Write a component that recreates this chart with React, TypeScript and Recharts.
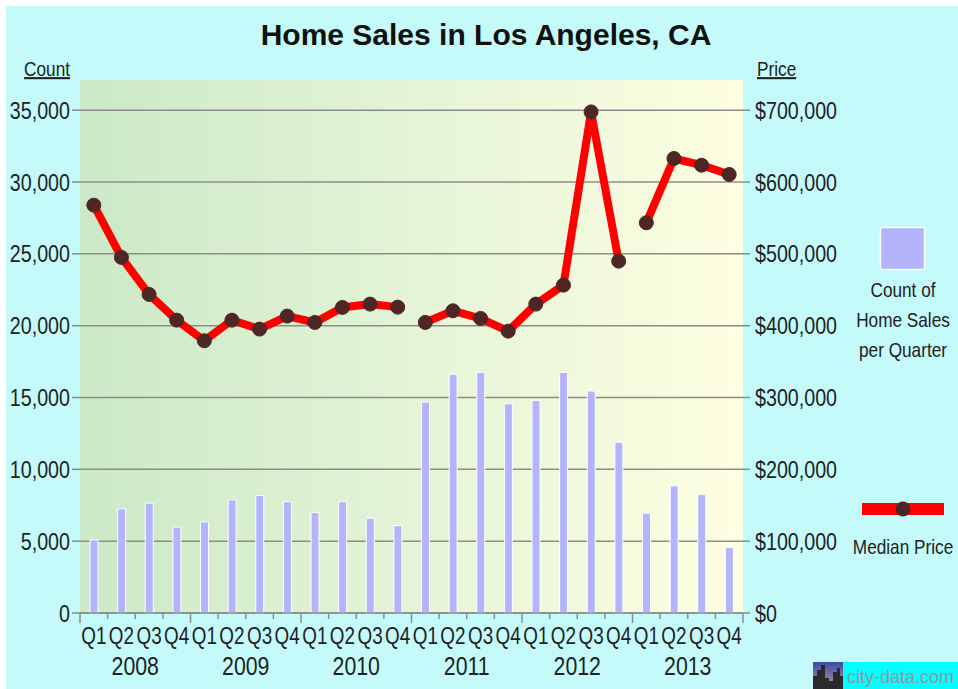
import React from 'react';
import {
  ComposedChart,
  CartesianGrid,
  XAxis,
  YAxis,
  Bar,
  Line
} from 'recharts';

const years = ['2008', '2009', '2010', '2011', '2012', '2013'];
const quarterNames = ['Q1', 'Q2', 'Q3', 'Q4'];

// count of home sales per quarter, 2008 Q1 .. 2013 Q4
const salesCount = [
  5100, 7250, 7650, 5980, 6350, 7880, 8180, 7750,
  7000, 7750, 6600, 6080, 14680, 16620, 16750, 14560,
  14800, 16750, 15450, 11880, 6950, 8850, 8250, 4550
];

// median price per quarter
const medianPrice = [
  567800, 495000, 443500, 407700, 379000, 407700, 395200, 413300,
  404500, 425400, 430000, 425800, 404500, 420700, 410100, 392400,
  430000, 456400, 697600, 489800, 543200, 632700, 623400, 610500
];

// the price line is broken before these quarters
const priceBreaks = [12, 20];

const countTicks = [0, 5000, 10000, 15000, 20000, 25000, 30000, 35000];
const priceTicks = [0, 100000, 200000, 300000, 400000, 500000, 600000, 700000];

const SANS = "'Liberation Sans', Arial, sans-serif";
const SQUEEZE = 0.82; // Arial Narrow look
const CYAN = '#c4fafa';
const GRID = '#8c8c8c';
const BAR = '#b4b4fc';
const RED = '#ff0000';
const DOT = '#4f2626';
const TEXT = '#222';

const segments = [0, ...priceBreaks, medianPrice.length];

const rows = salesCount.map((count, i) => {
  const row: any = {
    key: `${years[Math.floor(i / 4)]} ${quarterNames[i % 4]}`,
    count
  };
  for (let s = 0; s < segments.length - 1; s++) {
    row[`price${s}`] = i >= segments[s] && i < segments[s + 1] ? medianPrice[i] : null;
  }
  return row;
});

const Narrow = ({ x, y, size, anchor = 'start', dy, underline, children }: any) => (
  <text
    transform={`translate(${x},${y}) scale(${SQUEEZE},1)`}
    x={0}
    y={0}
    dy={dy}
    textAnchor={anchor}
    fontSize={size}
    fontFamily={SANS}
    fill={TEXT}
    textDecoration={underline ? 'underline' : undefined}
  >
    {children}
  </text>
);

const QuarterTick = (props: any) => {
  const { x, y, payload, index } = props;
  const half = payload.offset || 0;
  const [year, q] = String(payload.value).split(' ');
  const last = index === rows.length - 1;
  return (
    <g>
      <line x1={x - half} x2={x - half} y1={y} y2={y + (index % 4 === 0 ? 10 : 6)} stroke={GRID} strokeWidth={1.5} />
      {last && <line x1={x + half} x2={x + half} y1={y} y2={y + 10} stroke={GRID} strokeWidth={1.5} />}
      <Narrow x={x} y={y + 31} size={23} anchor="middle">{q}</Narrow>
      {index % 4 === 1 && (
        <Narrow x={x + half} y={y + 62} size={26} anchor="middle">{year}</Narrow>
      )}
    </g>
  );
};

const AxisTick = (props: any) => {
  const { x, y, payload, textAnchor, tickFormatter } = props;
  return (
    <Narrow x={x} y={y} size={24} anchor={textAnchor} dy="0.355em">
      {tickFormatter ? tickFormatter(payload.value) : payload.value}
    </Narrow>
  );
};

const App: React.FC = () => {
  return (
    <div style={{ position: 'absolute', left: 0, top: 0, width: 958, height: 689, background: '#fff', overflow: 'hidden' }}>
      <div style={{ position: 'absolute', left: 6, top: 6, right: 0, bottom: 0, background: CYAN }} />
      <ComposedChart
        width={958}
        height={689}
        data={rows}
        margin={{ top: 80, right: 0, left: 0, bottom: 0 }}
        style={{ position: 'absolute', left: 0, top: 0 }}
      >
        <defs>
          <linearGradient id="plotBg" x1="0" y1="0" x2="1" y2="0">
            <stop offset="0" stopColor="#cbe9c7" />
            <stop offset="0.5" stopColor="#e4f4d7" />
            <stop offset="1" stopColor="#fefee1" />
          </linearGradient>
        </defs>
        <CartesianGrid
          xAxisId="q"
          yAxisId="count"
          vertical={false}
          syncWithTicks
          stroke={GRID}
          strokeWidth={1.5}
          fill="url(#plotBg)"
          fillOpacity={1}
        />
        <XAxis
          xAxisId="q"
          dataKey="key"
          height={76}
          interval={0}
          tickSize={0}
          tickMargin={0}
          tickLine={false}
          axisLine={{ stroke: GRID, strokeWidth: 1.5 }}
          tick={QuarterTick}
        />
        <YAxis
          yAxisId="count"
          width={80}
          domain={[0, 37100]}
          ticks={countTicks}
          interval={0}
          axisLine={false}
          tickSize={8}
          tickMargin={2}
          tickLine={{ stroke: GRID, strokeWidth: 1.5 }}
          tick={AxisTick}
          tickFormatter={(v: number) => v.toLocaleString('en-US')}
        />
        <YAxis
          yAxisId="price"
          orientation="right"
          width={215}
          domain={[0, 742000]}
          ticks={priceTicks}
          interval={0}
          axisLine={false}
          tickSize={7}
          tickMargin={5}
          tickLine={{ stroke: GRID, strokeWidth: 1.5 }}
          tick={AxisTick}
          tickFormatter={(v: number) => '$' + v.toLocaleString('en-US')}
        />
        <Bar
          xAxisId="q"
          yAxisId="count"
          dataKey="count"
          fill={BAR}
          stroke="#fff"
          strokeWidth={1}
          barSize={8}
          isAnimationActive={false}
        />
        {segments.slice(0, -1).map((_, s) => (
          <Line
            key={s}
            xAxisId="q"
            yAxisId="price"
            dataKey={`price${s}`}
            stroke={RED}
            strokeWidth={8}
            dot={{ r: 7, fill: DOT, stroke: DOT, strokeWidth: 1 }}
            activeDot={false}
            connectNulls={false}
            isAnimationActive={false}
          />
        ))}
      </ComposedChart>
      <svg width={958} height={689} style={{ position: 'absolute', left: 0, top: 0, pointerEvents: 'none' }}>
        <text x={486} y={45} textAnchor="middle" fontSize={30} fontWeight="bold" fontFamily={SANS} fill="#111">
          Home Sales in Los Angeles, CA
        </text>
        <Narrow x={70} y={76} size={21} anchor="end" underline>Count</Narrow>
        <Narrow x={757} y={76} size={21} underline>Price</Narrow>
        <rect x={880.5} y={227.5} width={44} height={42} fill={BAR} stroke="#fff" strokeWidth={1.5} />
        <Narrow x={903} y={297} size={21} anchor="middle">Count of</Narrow>
        <Narrow x={903} y={327} size={21} anchor="middle">Home Sales</Narrow>
        <Narrow x={903} y={357} size={21} anchor="middle">per Quarter</Narrow>
        <rect x={862} y={503} width={82} height={12} fill={RED} />
        <circle cx={903} cy={509} r={7.5} fill={DOT} />
        <Narrow x={903} y={554} size={21} anchor="middle">Median Price</Narrow>
        <defs>
          <linearGradient id="logoSky" x1="0" y1="0" x2="0" y2="1">
            <stop offset="0" stopColor="#3a4aa8" />
            <stop offset="0.6" stopColor="#8a7aa0" />
            <stop offset="1" stopColor="#d89a50" />
          </linearGradient>
        </defs>
        <rect x={813} y={662} width={30} height={27} fill="url(#logoSky)" />
        <path d="M813 689 L813 676 L817 676 L817 670 L821 670 L821 665 L825 665 L825 678 L829 678 L829 681 L833 681 L833 672 L837 672 L837 668 L840 668 L840 676 L843 676 L843 689 Z" fill="#2a2a2a" />
        <rect x={843} y={662} width={115} height={27} fill="#00ffff" />
        <text x={847} y={683} fontSize={18} fontFamily={SANS} fill="#8c9c9c">
          city-data.com
        </text>
      </svg>
    </div>
  );
};

export default App;
